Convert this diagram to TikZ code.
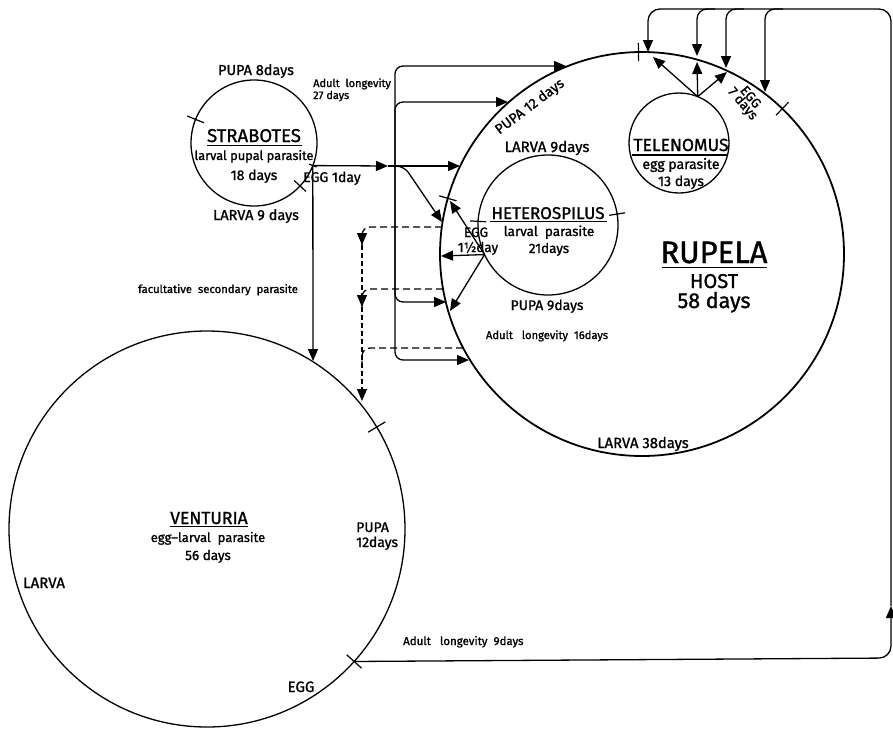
\documentclass[tikz,border=0pt]{standalone}
\usepackage{fontspec}
\setmainfont{Fira Sans}[FakeBold=1.2]
\usetikzlibrary{arrows.meta,calc}
\newcommand\fs[1]{\fontsize{#1}{#1}\selectfont}
\newcommand\radtick[3]{\draw[tickst] ($(#1.#2)!#3!(#1.center)$) -- ($(#1.#2)!-#3!(#1.center)$);}
\begin{document}
\begin{tikzpicture}[x=1pt,y=-1pt,
  ring/.style={circle,draw,inner sep=0pt,outer sep=0pt,line width=1.3pt},
  arr/.style={line width=1.3pt,-{Triangle[length=12pt,width=10pt]}},
  dsh/.style={line width=1.3pt,dash pattern=on 7pt off 4pt},
  vdsh/.style={line width=1.1pt,dash pattern=on 5pt off 3pt},
  tickst/.style={line width=1.2pt},
  lbl/.style={inner sep=0pt,anchor=base},
  lbll/.style={inner sep=0pt,anchor=base west}]
\useasboundingbox (0,0) rectangle (893,728);
\fill[white] (0,0) rectangle (893,728);

% circles
\node[ring,minimum size=126pt] (str) at (254,143) {};
\node[ring,minimum size=404pt,line width=1.8pt] (rup) at (642,254) {};
\node[ring,minimum size=140pt] (het) at (548,225) {};
\node[ring,minimum size=100pt] (tel) at (679,143) {};
\node[ring,minimum size=396pt] (ven) at (207,529) {};

% ticks
\radtick{str}{158}{9pt}
\radtick{str}{-43}{8pt}
\radtick{str}{-21}{4pt}
\radtick{rup}{91.4}{9pt}
\radtick{rup}{46.8}{9pt}
\radtick{rup}{164.5}{9pt}
\radtick{het}{177}{8pt}
\radtick{het}{9.7}{8pt}
\radtick{ven}{31.5}{10pt}
\radtick{ven}{-42.7}{10pt}

% coordinates
\coordinate (S) at (str.-21);
\coordinate (J) at (388,166);
\coordinate (K) at (395,166);
\coordinate (kd) at (404,166);
\coordinate (a1) at (566,66);
\coordinate (a2) at (508,102);
\coordinate (a3) at (460,166);
\coordinate (a4) at (442,222);
\coordinate (a5) at (446,302);
\coordinate (a6) at (469,360);
\coordinate (vs) at (313,361);
\coordinate (d1s) at (442,227);
\coordinate (v1) at (362,245);
\coordinate (d2s) at (443,289);
\coordinate (v2) at (362,307);
\coordinate (d3s) at (463,348);
\coordinate (v3) at (362,401);
\coordinate (m3) at (362,366);
\coordinate (P) at (het.205.5);
\coordinate (h1) at (450,201);
\coordinate (h2) at (441,256);
\coordinate (h3) at (450,311);
\coordinate (T) at (tel.68.6);
\coordinate (u1) at (653,57);
\coordinate (u2) at (697,62);
\coordinate (u3) at (727,72);
\coordinate (t1) at (648,52);
\coordinate (t2) at (697,56);
\coordinate (t3) at (726,68);
\coordinate (t4) at (765,92);
\coordinate (b2) at (715,9);
\coordinate (b3) at (744,9);
\coordinate (b4) at (783,9);
\coordinate (E) at (ven.-42.7);
\coordinate (c1) at (891,658);
\coordinate (up) at (891,606);
\coordinate (c2) at (891,9);

% Strabotes connectors
\draw[arr] (S) -- (J);
\draw[arr] (S) -- (vs);
\draw[arr,rounded corners=8pt] (K) |- (a1);
\draw[arr,rounded corners=8pt] (K) |- (a2);
\draw[arr] (J) -- (a3);
\draw[arr,rounded corners=8pt] (K) |- (a5);
\draw[arr,rounded corners=8pt] (K) |- (a6);
\draw[arr,rounded corners=8pt] (K) -- (kd) -- (a4);

% dashed: Rupela to Venturia
\draw[dsh,rounded corners=8pt] (d1s) -| (v1);
\draw[arr,vdsh] ($(v1)+(0,-10)$) -- (v1);
\draw[vdsh] (v1) -- (v2);
\draw[dsh,rounded corners=8pt] (d2s) -| (v2);
\draw[arr,vdsh] ($(v2)+(0,-10)$) -- (v2);
\draw[arr,vdsh] (v2) -- (v3);
\draw[dsh,rounded corners=8pt] (d3s) -| (m3);

% Heterospilus
\draw[arr] (P) -- (h1);
\draw[arr] (P) -- (h2);
\draw[arr] (P) -- (h3);

% Telenomus
\draw[arr] (T) -- (u1);
\draw[arr] (T) -- (u2);
\draw[arr] (T) -- (u3);

% Venturia adult loop to Rupela eggs
\draw[arr,rounded corners=12pt] (E) -- (c1) -- (up);
\draw[arr,rounded corners=12pt] (up) -- (c2) -| (t1);
\draw[arr,rounded corners=10pt] (b2) -| (t2);
\draw[arr,rounded corners=10pt] (b3) -| (t3);
\draw[arr,rounded corners=10pt] (b4) -| (t4);

% texts Strabotes
\node[lbl] (s1) at (256,75) {\fs{14.5}PUPA 8days};
\node[lbll] (s2) at (313,87) {\fs{11}Adult\ \ longevity};
\node[lbll] (s3) at (313,99) {\fs{11}27 days};
\node[lbl] (s4) at (254,142) {\fs{18.5}STRABOTES};
\draw[line width=1.1pt] (207,145.5) -- (302,145.5);
\node[lbl] (s5) at (254,160) {\fs{12.8}larval pupal parasite};
\node[lbl] (s6) at (254,180) {\fs{14}18 days};
\node[lbl] (s7) at (332,182) {\fs{14}EGG 1day};
\node[lbl] (s8) at (256,220) {\fs{14.5}LARVA 9 days};
\node[lbl] (s9) at (218,293) {\fs{11.3}facultative\ \ secondary\ \ parasite};

% Rupela texts
\node[inner sep=0pt,rotate=37] (r1) at (530,107) {\fs{14}PUPA 12 days};
\node[lbl] (r2) at (547,152) {\fs{15}LARVA 9days};
\node[lbl] (r3) at (714,263) {\fs{31}RUPELA};
\draw[line width=1.5pt] (662,267.5) -- (767,267.5);
\node[lbl] (r4) at (714,288) {\fs{20}HOST};
\node[lbl] (r5) at (714,308) {\fs{21.5}58 days};
\node[lbl] (r6) at (643,448) {\fs{14.8}LARVA 38days};
\node[inner sep=0pt,rotate=-50,align=center] (r7) at (746,101) {\fs{13.5}EGG\\[-2pt]\fs{13.5}7 days};

% Heterospilus texts
\node[lbl] (e1) at (548,219) {\fs{17}HETEROSPILUS};
\draw[line width=1.1pt] (490,221.5) -- (607,221.5);
\node[lbl] (e2) at (549,236) {\fs{13.5}larval\ \ parasite};
\node[lbl] (e3) at (549,253) {\fs{13.5}21days};
\node[lbl] (e4) at (476,237) {\fs{13.5}EGG};
\node[lbl] (e5) at (478,252) {\fs{13.5}1½day};
\node[lbl] (e6) at (547,310) {\fs{14}PUPA 9days};
\node[lbl] (e7) at (547,339) {\fs{11.2}Adult\ \ \ longevity\ \ 16days};

% Telenomus texts
\node[lbl] (n1) at (681,151) {\fs{17.5}TELENOMUS};
\draw[line width=1.1pt] (632,155) -- (727,155);
\node[lbl] (n2) at (681,169) {\fs{14}egg parasite};
\node[lbl] (n3) at (681,186) {\fs{14}13 days};

% Venturia texts
\node[lbl] (w1) at (209,524) {\fs{17.5}VENTURIA};
\draw[line width=1.1pt] (170,526.5) -- (248,526.5);
\node[lbl] (w2) at (208,542) {\fs{13}egg--larval\ \ parasite};
\node[lbl] (w3) at (208,560) {\fs{13.5}56 days};
\node[lbll] (w4) at (356,532) {\fs{14}PUPA};
\node[lbll] (w5) at (356,547) {\fs{14}12days};
\node[lbll] (w6) at (23,588) {\fs{15}LARVA};
\node[lbl] (w7) at (301,692) {\fs{15}EGG};
\node[lbll] (w8) at (403,645) {\fs{11.5}Adult\ \ \ longevity\ \ 9days};
\end{tikzpicture}
\end{document}
